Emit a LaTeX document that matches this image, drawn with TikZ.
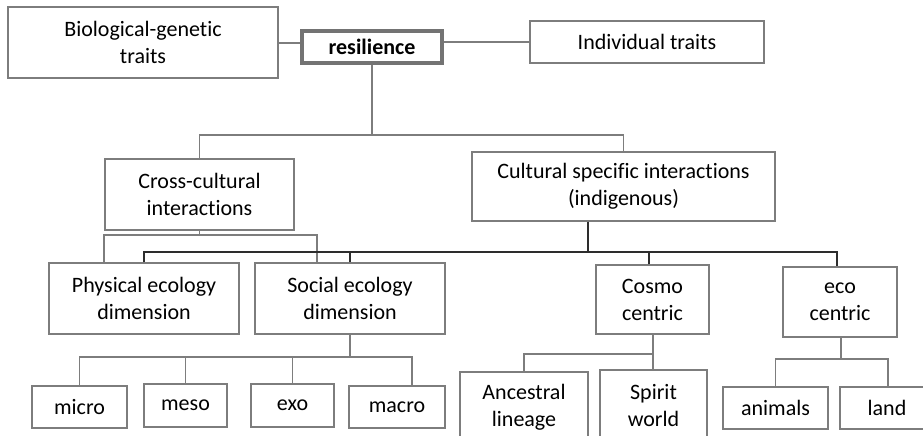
\documentclass[tikz,border=0pt]{standalone}
\usepackage{fontspec}
\setmainfont{Carlito}[Ligatures=NoCommon]
\definecolor{linegray}{RGB}{125,125,125}
\definecolor{darkline}{RGB}{45,45,45}
\definecolor{resgray}{RGB}{115,115,115}
\begin{document}
\begin{tikzpicture}[x=1pt,y=-1pt,
  boxstyle/.style={draw=linegray,line width=1.4pt,fill=white,align=center,inner sep=0pt,
    font=\fontsize{22}{27}\selectfont},
  conn/.style={draw=linegray,line width=1.4pt},
  darkconn/.style={draw=darkline,line width=1.8pt}]
\useasboundingbox (0,0) rectangle (923,436);
\clip (0,0) rectangle (923,436);
\fill[white] (0,0) rectangle (923,436);

\node[boxstyle,minimum width=270pt,minimum height=71pt] (bio) at (143,42.5) {Biological-genetic\\traits};
\node[boxstyle,minimum width=234pt,minimum height=42pt] (ind) at (647,42) {Individual traits};
\node[boxstyle,draw=resgray,line width=4pt,minimum width=140pt,minimum height=32pt,font=\fontsize{22}{27}\selectfont\bfseries] (res) at (372,47) {resilience};

\node[boxstyle,minimum width=189pt,minimum height=71pt] (cross) at (199.5,194.5) {Cross-cultural\\interactions};
\node[boxstyle,minimum width=303pt,minimum height=69pt] (cult) at (623.5,186.5) {Cultural specific interactions\\(indigenous)};

\node[boxstyle,minimum width=190pt,minimum height=71pt] (phys) at (144,298.5) {Physical ecology\\dimension};
\node[boxstyle,minimum width=190pt,minimum height=71pt] (soc) at (350,298.5) {Social ecology\\dimension};
\node[boxstyle,minimum width=113pt,minimum height=69pt] (cosmo) at (652.5,299.5) {Cosmo\\centric};
\node[boxstyle,minimum width=114pt,minimum height=70pt] (eco) at (840,302) {eco\\centric};

\node[boxstyle,minimum width=95pt,minimum height=42pt] (micro) at (79.5,407) {micro};
\node[boxstyle,minimum width=83pt,minimum height=43pt] (meso) at (185.5,405.5) {meso};
\node[boxstyle,minimum width=83pt,minimum height=43pt] (exo) at (292.5,405.5) {exo};
\node[boxstyle,minimum width=96pt,minimum height=42pt] (macro) at (397,407) {macro};

\node[boxstyle,minimum width=128pt,minimum height=71pt] (anc) at (524,407.5) {Ancestral\\lineage};
\node[boxstyle,minimum width=107pt,minimum height=71pt] (spirit) at (653.5,405.5) {Spirit\\world};
\node[boxstyle,minimum width=105pt,minimum height=42pt] (animals) at (775.5,408) {animals};
\node[boxstyle,minimum width=94pt,minimum height=42pt] (land) at (887,408) {land};

% resilience links
\draw[conn] (bio.east |- 0,43) -- (res.west |- 0,43);
\draw[conn] (res.east |- 0,42) -- (ind.west |- 0,42);
\draw[conn] (res.south) -- (res.south |- 0,135);
\draw[conn] (cross.north) -- (cross.north |- 0,135) -- (cult.north |- 0,135) -- (cult.north);

% cross-cultural branch
\draw[conn] (cross.south) -- (cross.south |- 0,235);
\draw[conn] (phys.north -| 104,0) -- (104,235) -- (317,235) -- (soc.north -| 317,0);

% cultural specific branch
\draw[darkconn] (cult.south -| 588,0) -- (588,252);
\draw[darkconn] (phys.north -| 144,0) -- (144,252) -- (837,252) -- (eco.north -| 837,0);
\draw[darkconn] (soc.north) -- (soc.north |- 0,252);
\draw[darkconn] (cosmo.north -| 649,0) -- (649,252);

% social ecology children
\draw[conn] (soc.south) -- (soc.south |- 0,357);
\draw[conn] (micro.north) -- (micro.north |- 0,357) -- (412,357) -- (macro.north -| 412,0);
\draw[conn] (meso.north) -- (meso.north |- 0,357);
\draw[conn] (exo.north) -- (exo.north |- 0,357);

% cosmo children
\draw[conn] (cosmo.south -| 653,0) -- (spirit.north -| 653,0);
\draw[conn] (anc.north) -- (anc.north |- 0,354) -- (653,354);

% eco children
\draw[conn] (eco.south -| 841,0) -- (841,359);
\draw[conn] (animals.north) -- (animals.north |- 0,359) -- (888,359) -- (land.north -| 888,0);
\end{tikzpicture}
\end{document}
